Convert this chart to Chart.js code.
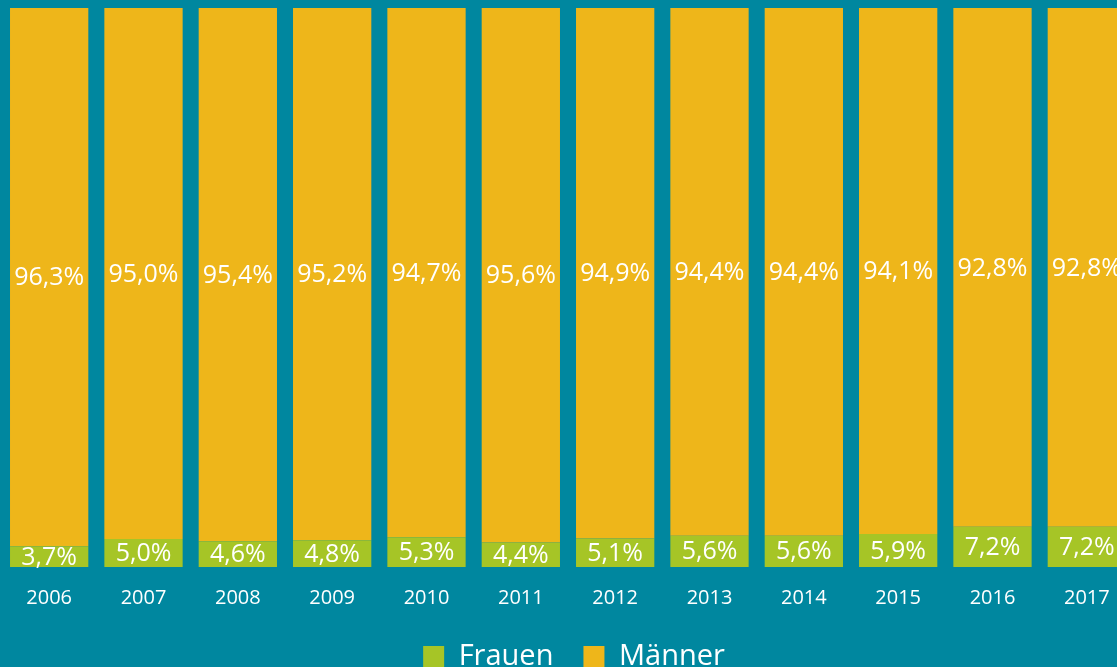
<!DOCTYPE html>
<html>
<head>
<meta charset="utf-8">
<script src="https://cdn.jsdelivr.net/npm/chart.js@4/dist/chart.umd.min.js"></script>
<style>
  html, body { margin: 0; padding: 0; background: #00879f; overflow: hidden; }
  #wrap { position: relative; width: 1148px; height: 690px; }
</style>
</head>
<body>
<div id="wrap"><canvas id="chart"></canvas></div>
<script>
years = ['2006', '2007', '2008', '2009', '2010', '2011', '2012', '2013', '2014', '2015', '2016', '2017'];
frauen = [3.7, 5.0, 4.6, 4.8, 5.3, 4.4, 5.1, 5.6, 5.6, 5.9, 7.2, 7.2];
maenner = [96.3, 95.0, 95.4, 95.2, 94.7, 95.6, 94.9, 94.4, 94.4, 94.1, 92.8, 92.8];
seriesNames = ['Frauen', 'Männer'];
colors = ['#a6c526', '#eeb61a'];

// draws the percent values in the middle of every bar
const valueLabels = {
  id: 'valueLabels',
  afterDatasetsDraw(chart){
    const ctx = chart.ctx;
    ctx.save();
    ctx.fillStyle = '#ffffff';
    ctx.font = '25px "Open Sans"';
    ctx.textAlign = 'center';
    ctx.textBaseline = 'middle';
    chart.data.datasets.forEach(function(ds, i){
      chart.getDatasetMeta(i).data.forEach(function(bar, j){
        const p = bar.getCenterPoint();
        const txt = ds.data[j].toFixed(1).replace('.', ',') + '%';
        ctx.fillText(txt, p.x, p.y + 1);
      });
    });
    ctx.restore();
  }
};

// legend padding is also the gap between items, so nudge the legend up a bit
const legendNudge = {
  id: 'legendNudge',
  afterLayout(chart){
    const lg = chart.legend;
    lg.top -= 9; lg.bottom -= 9;
    lg.left += 6; lg.right += 6;
  }
};

new Chart(document.getElementById('chart'), {
  type: 'bar',
  data: {
    labels: years,
    datasets: [
      { label: seriesNames[0], data: frauen, backgroundColor: colors[0], barPercentage: 0.83, categoryPercentage: 1 },
      { label: seriesNames[1], data: maenner, backgroundColor: colors[1], barPercentage: 0.83, categoryPercentage: 1 }
    ]
  },
  options: {
    responsive: true,
    maintainAspectRatio: false,
    animation: false,
    layout: { padding: { left: 2, right: 14, top: 8, bottom: 0 } },
    plugins: {
      tooltip: { enabled: false },
      legend: {
        position: 'bottom',
        labels: {
          color: '#ffffff',
          font: { family: 'Open Sans', size: 29 },
          boxWidth: 21,
          boxHeight: 21,
          padding: 30
        }
      }
    },
    scales: {
      x: {
        stacked: true,
        grid: { display: false },
        border: { display: false },
        ticks: { color: '#ffffff', font: { family: 'Open Sans', size: 20 }, padding: 11 }
      },
      y: {
        stacked: true,
        display: false,
        min: 0,
        max: 100
      }
    }
  },
  plugins: [valueLabels, legendNudge]
});
</script>
</body>
</html>
